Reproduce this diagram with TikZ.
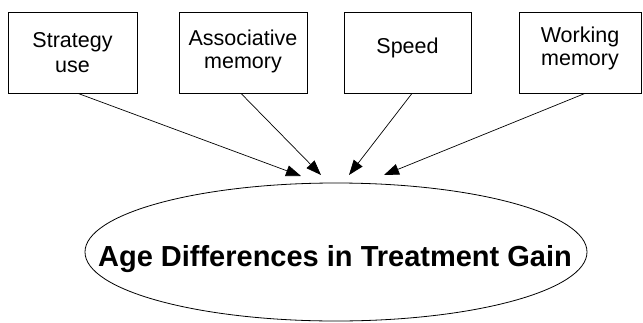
\documentclass[tikz,border=0pt]{standalone}
\usepackage{fontspec}
\setmainfont{Liberation Sans}
\usetikzlibrary{arrows.meta,shapes.geometric}
\begin{document}
\begin{tikzpicture}[x=1pt,y=-1pt,
  box/.style={draw, line width=0.8pt, minimum height=81pt, inner sep=0pt, text height=0pt,
    font=\fontsize{21.5}{24}\selectfont},
  arr/.style={line width=0.7pt, -{Triangle[length=15pt,width=11pt]}}]
\useasboundingbox (0,0) rectangle (643,322);
\node[box, minimum width=129pt, text depth=11pt] (b1) at (72.5,52.5)
  {\begin{tabular}[t]{@{}c@{}}Strategy\\[1pt]use\end{tabular}};
\node[box, minimum width=128pt, text depth=15pt] (b2) at (243,52.5)
  {\begin{tabular}[t]{@{}c@{}}Associative\\[-1pt]memory\end{tabular}};
\node[box, minimum width=127pt, text height=1pt, text depth=0pt] (b3) at (407.5,52.5)
  {\begin{tabular}[t]{@{}c@{}}Speed\end{tabular}};
\node[box, minimum width=122pt, text depth=21pt] (b4) at (580,52.5)
  {\begin{tabular}[t]{@{}c@{}}Working\\[-1pt]memory\end{tabular}};
\node[draw, ellipse, line width=0.8pt, minimum width=502pt, minimum height=138pt, inner sep=0pt] (e) at (336,252) {};
\node[font=\fontsize{29}{33}\selectfont\bfseries, inner sep=0pt, anchor=base] (lbl) at (335,266) {Age Differences in Treatment Gain};
\coordinate (t1) at (301,176);
\coordinate (t2) at (321,175);
\coordinate (t3) at (349,175);
\coordinate (t4) at (384,175);
\draw[arr] ([xshift=5.5pt]b1.south) -- (t1);
\draw[arr] ([xshift=-2pt]b2.south) -- (t2);
\draw[arr] ([xshift=4.5pt]b3.south) -- (t3);
\draw[arr] ([xshift=5pt]b4.south) -- (t4);
\end{tikzpicture}
\end{document}
